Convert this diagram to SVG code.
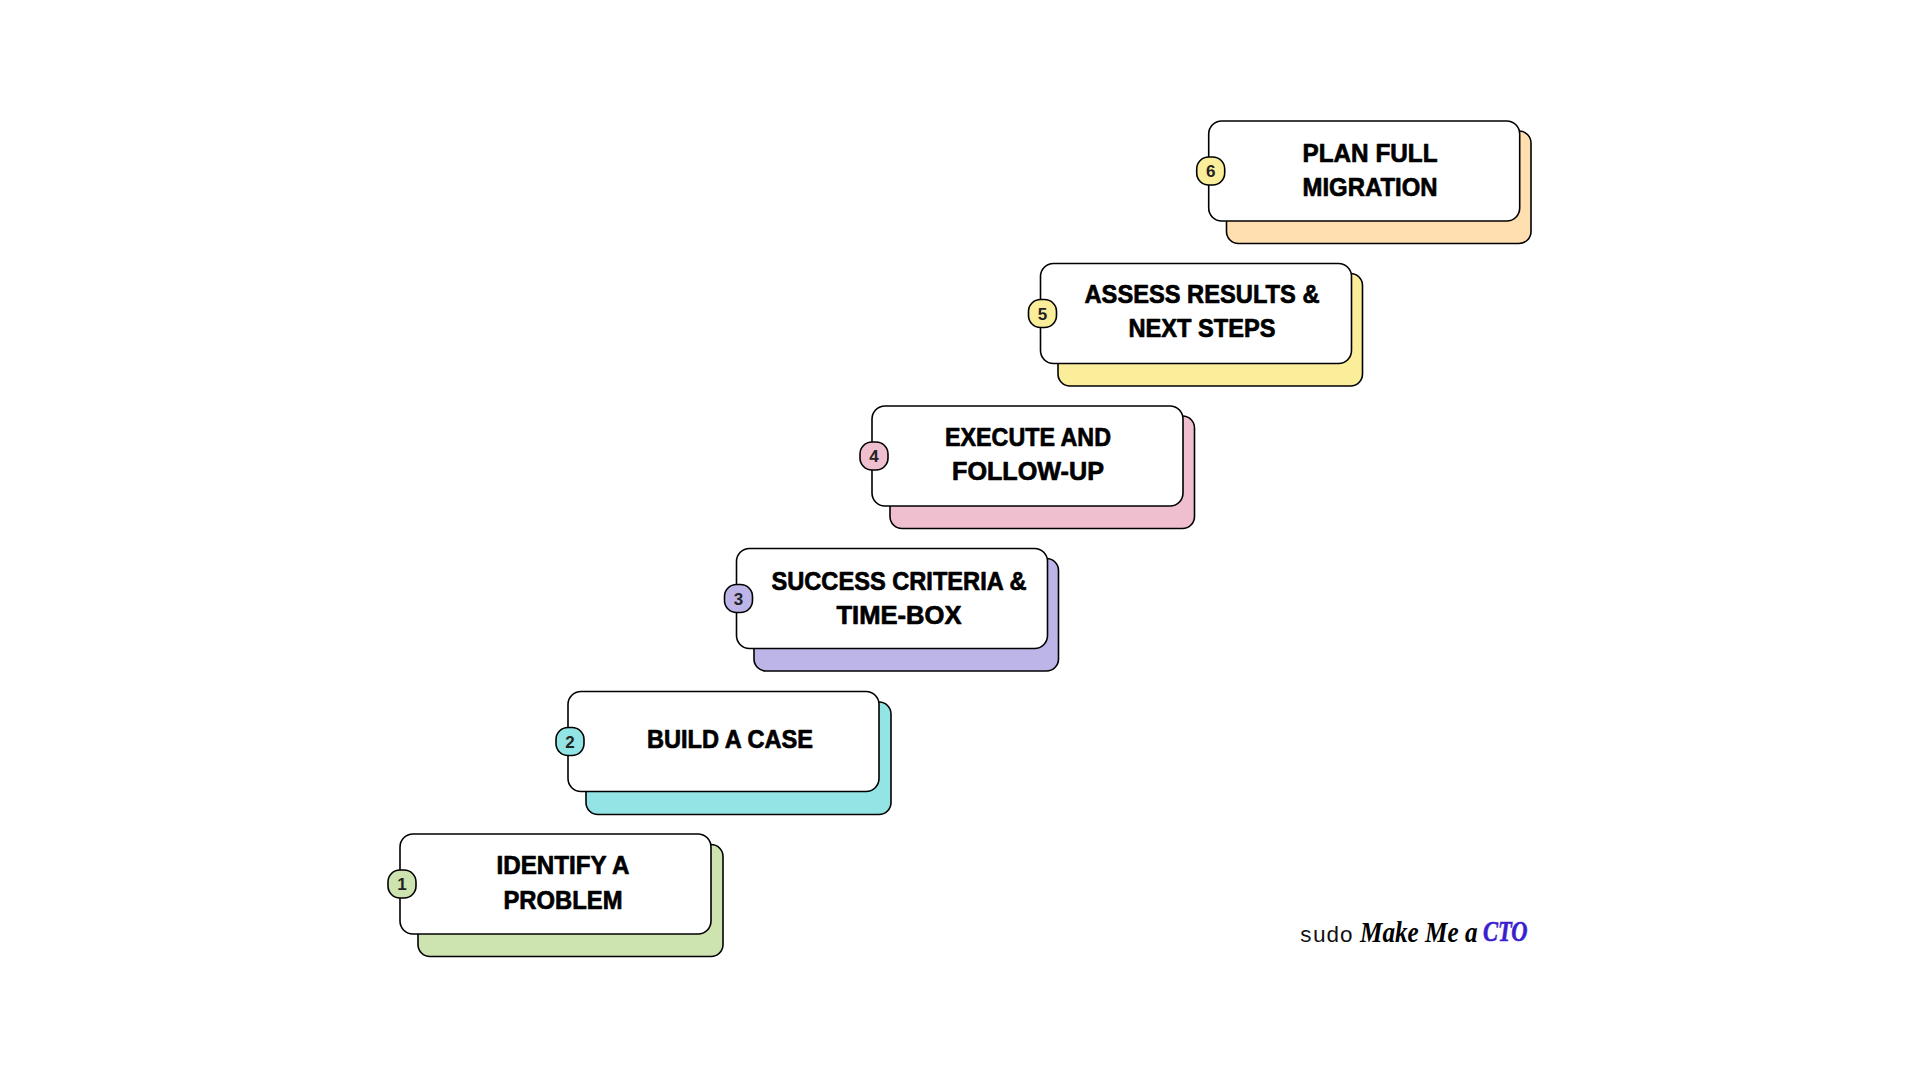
<svg xmlns="http://www.w3.org/2000/svg" width="1920" height="1080" viewBox="0 0 1920 1080">
<style>
.back,.card,.badge{stroke:#000;stroke-width:1.6}
.card{fill:#fff}
.label{font-family:"Liberation Sans",Arial,sans-serif;font-weight:700;font-size:26px;fill:#000;stroke:#000;stroke-width:.7;stroke-linejoin:round;text-anchor:middle}
.num{font-family:"Liberation Sans",Arial,sans-serif;font-weight:700;font-size:17px;fill:#222;text-anchor:middle}
.mono{font-family:"Liberation Mono",monospace;font-size:22.500px;fill:#111}
.script{font-family:"Liberation Serif",serif;font-weight:700;font-style:italic;font-size:30px;fill:#000}
</style>
<rect width="1920" height="1080" fill="#fff"/>
<g id="step1">
<rect class="back" x="418" y="844.500" width="305" height="112" rx="12" fill="#cde3b0"/>
<rect class="card" x="400" y="834" width="311" height="100" rx="13"/>
<rect class="badge" x="388" y="870" width="28" height="28" rx="12" fill="#cde3b0"/>
<text class="num" x="402" y="890">1</text>
<text class="label" x="563" y="874" textLength="133" lengthAdjust="spacingAndGlyphs">IDENTIFY A</text>
<text class="label" x="563" y="909" textLength="119" lengthAdjust="spacingAndGlyphs">PROBLEM</text>
</g>
<g id="step2">
<rect class="back" x="586" y="702" width="305" height="112.500" rx="12" fill="#93e4e4"/>
<rect class="card" x="568" y="691.500" width="311" height="100" rx="13"/>
<rect class="badge" x="556" y="727.500" width="28" height="28" rx="12" fill="#93e4e4"/>
<text class="num" x="570" y="747.500">2</text>
<text class="label" x="730" y="748" textLength="166" lengthAdjust="spacingAndGlyphs">BUILD A CASE</text>
</g>
<g id="step3">
<rect class="back" x="754" y="558.500" width="304.500" height="112.500" rx="12" fill="#bdb5e8"/>
<rect class="card" x="736.500" y="548.500" width="311" height="100" rx="13"/>
<rect class="badge" x="724.500" y="584.500" width="28" height="28" rx="12" fill="#bdb5e8"/>
<text class="num" x="738.500" y="604.500">3</text>
<text class="label" x="899" y="589.500" textLength="255" lengthAdjust="spacingAndGlyphs">SUCCESS CRITERIA &amp;</text>
<text class="label" x="899" y="624" textLength="125" lengthAdjust="spacingAndGlyphs">TIME-BOX</text>
</g>
<g id="step4">
<rect class="back" x="890" y="416" width="304.500" height="112.500" rx="12" fill="#efbfd0"/>
<rect class="card" x="872" y="406" width="311" height="100" rx="13"/>
<rect class="badge" x="860" y="442" width="28" height="28" rx="12" fill="#efbfd0"/>
<text class="num" x="874" y="462">4</text>
<text class="label" x="1028" y="446" textLength="166" lengthAdjust="spacingAndGlyphs">EXECUTE AND</text>
<text class="label" x="1028" y="480" textLength="152" lengthAdjust="spacingAndGlyphs">FOLLOW-UP</text>
</g>
<g id="step5">
<rect class="back" x="1058" y="273.500" width="304.500" height="112.500" rx="12" fill="#fbee9a"/>
<rect class="card" x="1040.500" y="263.500" width="311" height="100" rx="13"/>
<rect class="badge" x="1028.500" y="299.500" width="28" height="28" rx="12" fill="#fbee9a"/>
<text class="num" x="1042.500" y="319.500">5</text>
<text class="label" x="1202" y="303" textLength="235" lengthAdjust="spacingAndGlyphs">ASSESS RESULTS &amp;</text>
<text class="label" x="1202" y="337" textLength="147" lengthAdjust="spacingAndGlyphs">NEXT STEPS</text>
</g>
<g id="step6">
<rect class="back" x="1226.500" y="131" width="304.500" height="112.500" rx="12" fill="#ffdfb0"/>
<rect class="card" x="1208.700" y="121" width="311" height="100" rx="13"/>
<rect class="badge" x="1196.700" y="157" width="28" height="28" rx="12" fill="#fbee9a"/>
<text class="num" x="1210.700" y="177">6</text>
<text class="label" x="1370" y="162" textLength="135" lengthAdjust="spacingAndGlyphs">PLAN FULL</text>
<text class="label" x="1370" y="196" textLength="135" lengthAdjust="spacingAndGlyphs">MIGRATION</text>
</g>
<g id="logo">
<text class="mono" x="1299" y="942">sudo</text>
<text class="script" transform="translate(1360 942) scale(.84 1)" x="0" y="0">Make Me a</text>
<text class="script" transform="translate(1483 941) scale(.75 1)" x="0" y="0" style="fill:#3a1fcf;stroke:#3a1fcf;stroke-width:.6">CTO</text>
</g>
</svg>
